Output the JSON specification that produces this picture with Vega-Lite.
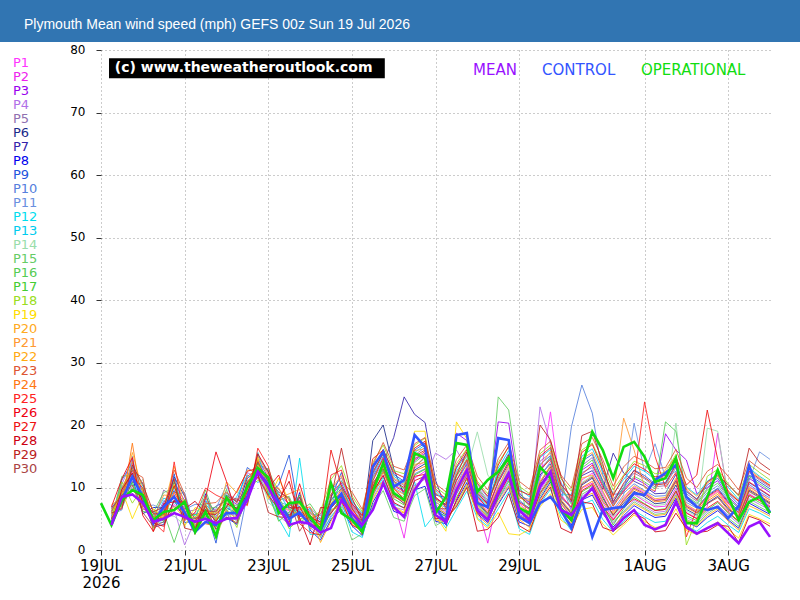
{
"$schema": "https://vega.github.io/schema/vega-lite/v6.json",
"autosize": {"type": "none"},
"padding": {"left": 101, "top": 50, "right": 30, "bottom": 50},
"width": 669, "height": 500,
"background": "white",
"config": {"view": {"stroke": null}, "font": "DejaVu Sans"},
"data": {"values": [
{"t":0,"OPERATIONAL":7.5},
{"t":6,"MEAN":4.0,"CONTROL":4.3,"OPERATIONAL":4.0,"P1":5.2,"P2":4.8,"P3":6.1,"P4":4.5,"P5":5.5,"P6":6.8,"P7":5.9,"P8":4.3,"P9":5.0,"P10":6.3,"P11":5.7,"P12":4.9,"P13":5.4,"P14":6.0,"P15":4.6,"P16":5.1,"P17":6.5,"P18":4.4,"P19":5.8,"P20":7.2,"P21":5.3,"P22":4.7,"P23":6.2,"P24":5.6,"P25":4.2,"P26":6.9,"P27":5.0,"P28":4.1,"P29":5.9,"P30":6.6},
{"t":12,"MEAN":8.5,"CONTROL":8.0,"OPERATIONAL":8.0,"P1":8.1,"P2":9.4,"P3":7.2,"P4":10.5,"P5":6.8,"P6":8.7,"P7":9.9,"P8":7.5,"P9":11.2,"P10":8.3,"P11":6.4,"P12":9.1,"P13":10.2,"P14":7.8,"P15":11.8,"P16":8.9,"P17":7.0,"P18":10.9,"P19":9.6,"P20":8.5,"P21":7.4,"P22":10.0,"P23":9.2,"P24":6.9,"P25":8.0,"P26":11.4,"P27":7.7,"P28":9.7,"P29":6.6,"P30":8.8},
{"t":18,"MEAN":8.9,"CONTROL":11.7,"OPERATIONAL":9.6,"P1":12.4,"P2":13.8,"P3":11.0,"P4":14.5,"P5":10.2,"P6":12.9,"P7":13.2,"P8":11.7,"P9":14.0,"P10":12.2,"P11":15.0,"P12":13.5,"P13":10.6,"P14":9.8,"P15":12.0,"P16":11.3,"P17":10.9,"P18":7.5,"P19":5.0,"P20":15.6,"P21":14.2,"P22":13.0,"P23":12.6,"P24":17.1,"P25":11.8,"P26":14.8,"P27":9.5,"P28":12.3,"P29":13.6,"P30":10.4},
{"t":24,"MEAN":7.5,"CONTROL":8.5,"OPERATIONAL":8.8,"P1":8.7,"P2":7.1,"P3":9.6,"P4":6.5,"P5":10.8,"P6":7.9,"P7":8.2,"P8":5.8,"P9":9.1,"P10":7.4,"P11":6.9,"P12":10.2,"P13":8.5,"P14":11.3,"P15":7.7,"P16":9.0,"P17":6.2,"P18":10.0,"P19":8.8,"P20":9.4,"P21":7.2,"P22":8.0,"P23":11.6,"P24":6.7,"P25":9.9,"P26":5.5,"P27":8.4,"P28":7.6,"P29":10.5,"P30":6.0},
{"t":30,"MEAN":4.5,"CONTROL":4.3,"OPERATIONAL":4.8,"P1":4.8,"P2":5.5,"P3":3.9,"P4":6.2,"P5":4.4,"P6":5.9,"P7":3.6,"P8":6.8,"P9":5.1,"P10":4.2,"P11":7.2,"P12":4.6,"P13":5.3,"P14":3.3,"P15":6.0,"P16":4.9,"P17":5.7,"P18":3.5,"P19":6.5,"P20":4.0,"P21":5.0,"P22":6.6,"P23":2.9,"P24":5.4,"P25":4.5,"P26":3.0,"P27":5.8,"P28":4.3,"P29":6.1,"P30":3.8},
{"t":36,"MEAN":5.0,"CONTROL":6.9,"OPERATIONAL":6.1,"P1":6.2,"P2":4.8,"P3":7.5,"P4":5.3,"P5":9.6,"P6":5.9,"P7":4.1,"P8":6.8,"P9":5.0,"P10":7.9,"P11":6.5,"P12":4.4,"P13":8.3,"P14":5.7,"P15":9.2,"P16":6.0,"P17":4.6,"P18":7.1,"P19":5.4,"P20":6.7,"P21":8.8,"P22":4.9,"P23":6.3,"P24":5.2,"P25":2.9,"P26":7.4,"P27":5.6,"P28":3.8,"P29":6.9,"P30":4.5},
{"t":42,"MEAN":5.9,"CONTROL":8.5,"OPERATIONAL":6.4,"P1":9.1,"P2":7.3,"P3":10.8,"P4":6.5,"P5":8.4,"P6":11.7,"P7":7.9,"P8":9.5,"P9":12.2,"P10":6.9,"P11":8.8,"P12":10.1,"P13":7.6,"P14":5.4,"P15":9.9,"P16":1.2,"P17":11.0,"P18":6.2,"P19":10.5,"P20":13.4,"P21":8.6,"P22":7.0,"P23":12.8,"P24":9.3,"P25":14.1,"P26":7.7,"P27":10.3,"P28":8.0,"P29":11.4,"P30":6.6},
{"t":48,"MEAN":5.3,"CONTROL":6.0,"OPERATIONAL":7.7,"P1":6.8,"P2":5.4,"P3":7.9,"P4":0.8,"P5":6.1,"P6":8.6,"P7":5.0,"P8":7.2,"P9":4.4,"P10":6.5,"P11":9.2,"P12":5.8,"P13":6.9,"P14":4.0,"P15":7.5,"P16":6.2,"P17":5.5,"P18":8.1,"P19":3.8,"P20":7.0,"P21":6.4,"P22":5.1,"P23":8.9,"P24":6.0,"P25":4.7,"P26":7.7,"P27":5.3,"P28":6.6,"P29":3.5,"P30":7.4},
{"t":54,"MEAN":4.5,"CONTROL":2.9,"OPERATIONAL":2.9,"P1":4.3,"P2":5.9,"P3":3.2,"P4":4.8,"P5":6.4,"P6":3.7,"P7":5.1,"P8":2.8,"P9":4.6,"P10":7.3,"P11":3.4,"P12":5.5,"P13":4.0,"P14":6.1,"P15":3.0,"P16":4.9,"P17":5.7,"P18":3.6,"P19":6.8,"P20":4.2,"P21":3.9,"P22":5.3,"P23":2.5,"P24":4.5,"P25":6.0,"P26":3.3,"P27":4.7,"P28":7.8,"P29":3.1,"P30":5.0},
{"t":60,"MEAN":5.0,"CONTROL":4.5,"OPERATIONAL":6.1,"P1":6.9,"P2":5.6,"P3":7.8,"P4":4.9,"P5":8.4,"P6":6.2,"P7":5.3,"P8":9.0,"P9":6.6,"P10":7.3,"P11":4.5,"P12":8.1,"P13":5.9,"P14":7.0,"P15":6.4,"P16":9.6,"P17":5.1,"P18":7.6,"P19":6.0,"P20":8.7,"P21":5.4,"P22":6.8,"P23":7.4,"P24":4.2,"P25":9.9,"P26":8.3,"P27":6.5,"P28":5.8,"P29":7.1,"P30":6.3},
{"t":66,"MEAN":4.3,"CONTROL":4.0,"OPERATIONAL":2.2,"P1":5.3,"P2":4.1,"P3":6.2,"P4":3.4,"P5":5.8,"P6":4.7,"P7":7.0,"P8":3.9,"P9":1.1,"P10":5.5,"P11":6.6,"P12":4.4,"P13":5.1,"P14":2.9,"P15":6.9,"P16":4.8,"P17":3.6,"P18":1.8,"P19":5.9,"P20":4.3,"P21":6.4,"P22":5.0,"P23":7.6,"P24":3.8,"P25":8.8,"P26":15.7,"P27":4.6,"P28":5.7,"P29":3.3,"P30":6.1},
{"t":72,"MEAN":5.0,"CONTROL":5.9,"OPERATIONAL":8.4,"P1":7.5,"P2":6.2,"P3":8.4,"P4":5.7,"P5":9.1,"P6":6.8,"P7":7.9,"P8":5.2,"P9":8.8,"P10":6.5,"P11":10.4,"P12":7.2,"P13":6.0,"P14":8.1,"P15":5.5,"P16":9.7,"P17":7.0,"P18":6.6,"P19":8.5,"P20":10.9,"P21":7.7,"P22":6.3,"P23":9.3,"P24":5.9,"P25":8.0,"P26":11.0,"P27":6.9,"P28":7.4,"P29":5.3,"P30":8.6},
{"t":78,"MEAN":5.1,"CONTROL":5.9,"OPERATIONAL":6.1,"P1":6.4,"P2":5.2,"P3":7.3,"P4":4.7,"P5":8.0,"P6":5.8,"P7":6.6,"P8":4.1,"P9":7.7,"P10":0.5,"P11":6.1,"P12":5.5,"P13":8.6,"P14":4.4,"P15":6.9,"P16":5.0,"P17":7.2,"P18":3.6,"P19":6.3,"P20":9.1,"P21":5.7,"P22":4.9,"P23":7.5,"P24":6.0,"P25":8.2,"P26":5.4,"P27":9.4,"P28":6.7,"P29":4.3,"P30":7.8},
{"t":84,"MEAN":8.0,"CONTROL":8.5,"OPERATIONAL":10.1,"P1":9.2,"P2":10.8,"P3":8.1,"P4":12.4,"P5":7.6,"P6":9.8,"P7":11.5,"P8":8.5,"P9":13.2,"P10":9.0,"P11":10.3,"P12":7.9,"P13":12.0,"P14":8.8,"P15":9.5,"P16":11.1,"P17":7.3,"P18":10.0,"P19":8.3,"P20":12.8,"P21":9.6,"P22":8.0,"P23":11.8,"P24":10.6,"P25":7.1,"P26":9.3,"P27":12.6,"P28":8.7,"P29":10.9,"P30":9.9},
{"t":90,"MEAN":12.5,"CONTROL":12.5,"OPERATIONAL":13.1,"P1":13.5,"P2":12.1,"P3":14.6,"P4":11.4,"P5":15.2,"P6":13.0,"P7":12.7,"P8":14.0,"P9":11.9,"P10":13.8,"P11":12.4,"P12":15.6,"P13":10.8,"P14":13.3,"P15":14.4,"P16":12.0,"P17":13.9,"P18":11.1,"P19":14.8,"P20":12.6,"P21":15.0,"P22":13.6,"P23":12.9,"P24":14.3,"P25":16.3,"P26":11.7,"P27":13.1,"P28":15.4,"P29":12.2,"P30":14.1},
{"t":96,"MEAN":10.1,"CONTROL":10.5,"OPERATIONAL":11.6,"P1":10.4,"P2":9.2,"P3":11.6,"P4":8.5,"P5":12.3,"P6":10.0,"P7":9.7,"P8":11.0,"P9":8.9,"P10":12.8,"P11":10.6,"P12":9.4,"P13":11.9,"P14":7.6,"P15":10.2,"P16":13.1,"P17":9.0,"P18":11.3,"P19":8.2,"P20":10.8,"P21":12.0,"P22":9.5,"P23":11.4,"P24":10.1,"P25":13.4,"P26":8.7,"P27":9.9,"P28":12.5,"P29":6.0,"P30":10.9},
{"t":102,"MEAN":6.9,"CONTROL":7.7,"OPERATIONAL":5.9,"P1":7.4,"P2":6.1,"P3":8.8,"P4":5.5,"P5":9.6,"P6":7.0,"P7":6.5,"P8":8.1,"P9":10.4,"P10":6.8,"P11":7.7,"P12":5.0,"P13":9.1,"P14":6.3,"P15":7.9,"P16":8.5,"P17":4.6,"P18":7.2,"P19":11.5,"P20":6.0,"P21":8.3,"P22":7.5,"P23":5.8,"P24":9.9,"P25":7.1,"P26":6.6,"P27":12.0,"P28":8.0,"P29":5.3,"P30":9.3},
{"t":108,"MEAN":4.0,"CONTROL":5.0,"OPERATIONAL":7.5,"P1":6.2,"P2":5.0,"P3":7.4,"P4":4.1,"P5":8.0,"P6":5.6,"P7":6.9,"P8":3.7,"P9":15.2,"P10":5.9,"P11":7.1,"P12":2.1,"P13":6.5,"P14":4.6,"P15":8.6,"P16":5.3,"P17":6.0,"P18":3.4,"P19":7.8,"P20":4.8,"P21":9.0,"P22":6.4,"P23":5.5,"P24":7.2,"P25":12.8,"P26":4.4,"P27":6.7,"P28":11.0,"P29":5.2,"P30":8.3},
{"t":114,"MEAN":4.5,"CONTROL":6.0,"OPERATIONAL":7.7,"P1":6.6,"P2":7.8,"P3":5.3,"P4":8.4,"P5":4.7,"P6":7.0,"P7":6.1,"P8":9.2,"P9":5.5,"P10":6.9,"P11":8.0,"P12":14.7,"P13":5.9,"P14":7.5,"P15":4.5,"P16":6.3,"P17":8.8,"P18":5.0,"P19":7.3,"P20":6.0,"P21":9.7,"P22":5.7,"P23":7.9,"P24":6.5,"P25":4.2,"P26":10.6,"P27":6.8,"P28":5.1,"P29":8.5,"P30":3.0},
{"t":120,"MEAN":4.2,"CONTROL":4.0,"OPERATIONAL":5.3,"P1":5.1,"P2":4.3,"P3":6.0,"P4":3.6,"P5":6.8,"P6":4.8,"P7":5.5,"P8":3.2,"P9":6.3,"P10":4.6,"P11":5.8,"P12":2.5,"P13":6.6,"P14":4.0,"P15":5.3,"P16":7.4,"P17":3.8,"P18":5.0,"P19":4.4,"P20":6.1,"P21":3.4,"P22":5.7,"P23":4.9,"P24":6.9,"P25":2.8,"P26":5.2,"P27":4.1,"P28":0.8,"P29":3.9,"P30":5.6},
{"t":126,"MEAN":2.8,"CONTROL":3.0,"OPERATIONAL":3.2,"P1":3.6,"P2":2.8,"P3":4.4,"P4":2.2,"P5":5.0,"P6":3.1,"P7":3.9,"P8":1.6,"P9":4.7,"P10":3.3,"P11":5.5,"P12":2.5,"P13":4.1,"P14":3.0,"P15":2.0,"P16":4.9,"P17":3.5,"P18":6.2,"P19":2.7,"P20":3.8,"P21":4.3,"P22":1.2,"P23":5.8,"P24":3.2,"P25":2.4,"P26":4.5,"P27":3.7,"P28":6.8,"P29":2.9,"P30":4.0},
{"t":132,"MEAN":3.5,"CONTROL":7.0,"OPERATIONAL":10.7,"P1":7.4,"P2":6.2,"P3":8.6,"P4":5.5,"P5":9.5,"P6":6.8,"P7":7.9,"P8":4.9,"P9":8.3,"P10":6.0,"P11":10.2,"P12":5.2,"P13":7.1,"P14":9.0,"P15":6.5,"P16":8.0,"P17":5.8,"P18":11.3,"P19":7.6,"P20":6.3,"P21":9.8,"P22":4.6,"P23":8.9,"P24":7.0,"P25":12.0,"P26":5.9,"P27":16.0,"P28":6.7,"P29":8.2,"P30":7.3},
{"t":138,"MEAN":8.0,"CONTROL":9.0,"OPERATIONAL":5.9,"P1":9.3,"P2":8.0,"P3":10.7,"P4":7.1,"P5":11.6,"P6":8.8,"P7":9.9,"P8":6.5,"P9":12.4,"P10":8.3,"P11":10.0,"P12":7.6,"P13":11.1,"P14":9.5,"P15":6.9,"P16":10.4,"P17":8.6,"P18":13.5,"P19":9.0,"P20":7.4,"P21":11.9,"P22":8.2,"P23":10.9,"P24":9.7,"P25":12.8,"P26":7.9,"P27":10.2,"P28":8.5,"P29":16.3,"P30":9.1},
{"t":144,"MEAN":5.9,"CONTROL":5.0,"OPERATIONAL":4.8,"P1":6.3,"P2":5.1,"P3":7.2,"P4":4.5,"P5":8.0,"P6":5.8,"P7":6.6,"P8":3.9,"P9":7.5,"P10":5.4,"P11":6.9,"P12":2.9,"P13":7.8,"P14":5.0,"P15":1.6,"P16":6.1,"P17":4.7,"P18":8.7,"P19":5.6,"P20":6.4,"P21":7.0,"P22":4.2,"P23":9.3,"P24":5.9,"P25":6.8,"P26":4.0,"P27":7.4,"P28":5.3,"P29":8.4,"P30":6.0},
{"t":150,"MEAN":4.0,"CONTROL":3.5,"OPERATIONAL":2.9,"P1":4.2,"P2":3.5,"P3":5.0,"P4":2.8,"P5":5.6,"P6":3.9,"P7":4.5,"P8":2.3,"P9":5.3,"P10":3.7,"P11":4.8,"P12":2.0,"P13":5.9,"P14":3.3,"P15":2.6,"P16":4.4,"P17":3.0,"P18":6.1,"P19":3.6,"P20":4.7,"P21":5.2,"P22":2.9,"P23":6.5,"P24":3.8,"P25":4.0,"P26":3.1,"P27":5.5,"P28":2.5,"P29":4.6,"P30":3.4},
{"t":156,"MEAN":6.4,"CONTROL":13.3,"OPERATIONAL":9.3,"P1":10.5,"P2":9.1,"P3":11.8,"P4":8.3,"P5":12.6,"P6":17.5,"P7":10.0,"P8":7.6,"P9":13.0,"P10":9.6,"P11":11.2,"P12":8.8,"P13":12.1,"P14":10.8,"P15":7.2,"P16":11.5,"P17":9.4,"P18":14.0,"P19":8.0,"P20":10.3,"P21":12.9,"P22":9.8,"P23":13.6,"P24":8.6,"P25":11.0,"P26":10.1,"P27":14.6,"P28":9.3,"P29":12.3,"P30":10.7},
{"t":162,"MEAN":10.7,"CONTROL":15.7,"OPERATIONAL":13.9,"P1":13.4,"P2":12.0,"P3":14.6,"P4":11.2,"P5":15.3,"P6":20.0,"P7":14.0,"P8":10.5,"P9":16.1,"P10":12.7,"P11":13.9,"P12":11.6,"P13":15.0,"P14":12.3,"P15":9.5,"P16":14.4,"P17":12.9,"P18":16.8,"P19":11.0,"P20":13.2,"P21":15.7,"P22":10.9,"P23":17.2,"P24":12.5,"P25":14.8,"P26":13.7,"P27":16.0,"P28":11.9,"P29":15.5,"P30":13.0},
{"t":168,"MEAN":6.9,"CONTROL":10.1,"OPERATIONAL":9.1,"P1":9.0,"P2":7.8,"P3":10.5,"P4":6.9,"P5":11.3,"P6":13.0,"P7":18.0,"P8":6.2,"P9":12.1,"P10":8.7,"P11":10.0,"P12":7.3,"P13":11.8,"P14":9.4,"P15":5.2,"P16":10.8,"P17":8.2,"P18":12.7,"P19":7.0,"P20":9.7,"P21":11.5,"P22":6.5,"P23":13.4,"P24":8.5,"P25":10.3,"P26":9.9,"P27":12.4,"P28":7.6,"P29":11.0,"P30":8.8},
{"t":174,"MEAN":5.3,"CONTROL":11.2,"OPERATIONAL":8.0,"P1":8.2,"P2":1.9,"P3":9.5,"P4":6.4,"P5":10.3,"P6":8.8,"P7":24.5,"P8":5.6,"P9":11.0,"P10":7.5,"P11":9.0,"P12":6.8,"P13":10.7,"P14":8.5,"P15":4.6,"P16":9.8,"P17":7.2,"P18":12.2,"P19":6.0,"P20":8.9,"P21":10.5,"P22":5.9,"P23":12.8,"P24":7.8,"P25":9.3,"P26":8.1,"P27":11.6,"P28":6.7,"P29":10.0,"P30":7.4},
{"t":180,"MEAN":9.6,"CONTROL":18.4,"OPERATIONAL":15.5,"P1":13.1,"P2":11.5,"P3":14.3,"P4":10.4,"P5":15.2,"P6":12.8,"P7":21.7,"P8":9.6,"P9":16.0,"P10":12.2,"P11":14.8,"P12":10.9,"P13":15.6,"P14":13.5,"P15":8.7,"P16":14.0,"P17":12.0,"P18":16.7,"P19":19.0,"P20":13.7,"P21":15.9,"P22":10.1,"P23":17.0,"P24":12.6,"P25":14.5,"P26":11.8,"P27":16.3,"P28":11.1,"P29":15.0,"P30":13.3},
{"t":186,"MEAN":12.0,"CONTROL":16.5,"OPERATIONAL":14.7,"P1":14.2,"P2":12.6,"P3":15.5,"P4":11.3,"P5":16.4,"P6":13.8,"P7":20.4,"P8":10.2,"P9":17.1,"P10":13.0,"P11":15.0,"P12":3.7,"P13":16.8,"P14":14.6,"P15":9.8,"P16":15.3,"P17":12.9,"P18":17.9,"P19":19.0,"P20":14.0,"P21":16.2,"P22":11.5,"P23":18.0,"P24":13.4,"P25":15.8,"P26":12.1,"P27":17.4,"P28":11.8,"P29":16.0,"P30":14.9},
{"t":192,"MEAN":5.6,"CONTROL":6.9,"OPERATIONAL":5.9,"P1":7.3,"P2":6.0,"P3":8.4,"P4":15.5,"P5":9.0,"P6":6.7,"P7":11.2,"P8":4.6,"P9":8.8,"P10":6.4,"P11":7.6,"P12":5.8,"P13":9.5,"P14":7.0,"P15":3.9,"P16":8.0,"P17":6.2,"P18":10.1,"P19":5.5,"P20":7.8,"P21":9.2,"P22":4.8,"P23":10.6,"P24":6.9,"P25":8.5,"P26":7.1,"P27":9.8,"P28":5.0,"P29":8.2,"P30":6.6},
{"t":198,"MEAN":4.5,"CONTROL":4.3,"OPERATIONAL":8.5,"P1":6.1,"P2":5.0,"P3":7.2,"P4":14.5,"P5":7.9,"P6":5.6,"P7":6.5,"P8":4.2,"P9":8.4,"P10":5.3,"P11":6.8,"P12":3.5,"P13":7.6,"P14":5.9,"P15":4.8,"P16":7.0,"P17":5.4,"P18":8.8,"P19":3.0,"P20":6.3,"P21":7.5,"P22":4.5,"P23":9.3,"P24":5.8,"P25":6.9,"P26":4.0,"P27":8.1,"P28":5.1,"P29":7.3,"P30":6.6},
{"t":204,"MEAN":9.6,"CONTROL":18.4,"OPERATIONAL":17.1,"P1":10.6,"P2":9.0,"P3":18.7,"P4":16.0,"P5":12.0,"P6":9.5,"P7":11.2,"P8":7.8,"P9":13.1,"P10":8.9,"P11":10.3,"P12":6.5,"P13":12.6,"P14":9.8,"P15":7.1,"P16":11.7,"P17":8.4,"P18":13.8,"P19":20.5,"P20":10.0,"P21":12.3,"P22":7.4,"P23":14.5,"P24":9.2,"P25":11.0,"P26":8.0,"P27":13.3,"P28":6.9,"P29":11.9,"P30":9.6},
{"t":210,"MEAN":12.8,"CONTROL":18.7,"OPERATIONAL":16.8,"P1":13.0,"P2":11.9,"P3":17.5,"P4":13.2,"P5":14.2,"P6":12.5,"P7":13.7,"P8":10.8,"P9":15.5,"P10":12.0,"P11":14.0,"P12":9.4,"P13":15.0,"P14":12.8,"P15":10.2,"P16":14.6,"P17":11.3,"P18":16.2,"P19":17.8,"P20":13.4,"P21":15.2,"P22":10.5,"P23":16.8,"P24":12.2,"P25":14.4,"P26":11.6,"P27":16.0,"P28":10.0,"P29":15.7,"P30":12.7},
{"t":216,"MEAN":6.4,"CONTROL":7.5,"OPERATIONAL":9.3,"P1":8.3,"P2":7.0,"P3":9.6,"P4":6.4,"P5":10.1,"P6":7.6,"P7":8.7,"P8":5.8,"P9":9.2,"P10":6.8,"P11":10.5,"P12":5.1,"P13":8.9,"P14":18.9,"P15":6.2,"P16":9.9,"P17":7.3,"P18":11.0,"P19":4.9,"P20":8.0,"P21":9.4,"P22":5.6,"P23":11.8,"P24":7.1,"P25":8.5,"P26":6.0,"P27":10.7,"P28":3.0,"P29":9.0,"P30":7.8},
{"t":222,"MEAN":4.8,"CONTROL":6.9,"OPERATIONAL":11.2,"P1":6.3,"P2":1.1,"P3":7.5,"P4":5.0,"P5":8.0,"P6":5.7,"P7":6.6,"P8":4.4,"P9":7.2,"P10":5.3,"P11":8.4,"P12":3.8,"P13":6.9,"P14":12.0,"P15":4.6,"P16":7.7,"P17":5.5,"P18":9.0,"P19":3.5,"P20":6.0,"P21":7.1,"P22":4.1,"P23":9.6,"P24":5.2,"P25":6.7,"P26":4.8,"P27":8.6,"P28":3.3,"P29":7.4,"P30":5.9},
{"t":228,"MEAN":9.1,"CONTROL":17.9,"OPERATIONAL":12.5,"P1":10.2,"P2":8.8,"P3":20.5,"P4":8.0,"P5":11.9,"P6":9.4,"P7":10.8,"P8":7.3,"P9":12.5,"P10":8.4,"P11":11.2,"P12":6.6,"P13":13.1,"P14":9.9,"P15":24.5,"P16":11.5,"P17":8.1,"P18":14.0,"P19":6.0,"P20":10.0,"P21":12.2,"P22":7.6,"P23":14.6,"P24":9.0,"P25":11.0,"P26":8.6,"P27":13.6,"P28":5.2,"P29":12.0,"P30":9.7},
{"t":234,"MEAN":12.3,"CONTROL":17.6,"OPERATIONAL":14.7,"P1":13.2,"P2":11.6,"P3":20.3,"P4":10.5,"P5":14.5,"P6":12.4,"P7":13.8,"P8":10.0,"P9":15.4,"P10":11.3,"P11":14.1,"P12":9.3,"P13":15.9,"P14":12.9,"P15":22.4,"P16":14.8,"P17":11.0,"P18":16.5,"P19":2.6,"P20":13.6,"P21":15.0,"P22":10.2,"P23":17.2,"P24":12.0,"P25":14.2,"P26":11.8,"P27":16.6,"P28":9.0,"P29":15.2,"P30":12.6},
{"t":240,"MEAN":6.4,"CONTROL":5.3,"OPERATIONAL":6.7,"P1":7.4,"P2":6.0,"P3":9.2,"P4":5.3,"P5":8.5,"P6":6.6,"P7":7.8,"P8":4.5,"P9":9.0,"P10":5.7,"P11":8.1,"P12":3.4,"P13":9.8,"P14":6.4,"P15":10.9,"P16":8.8,"P17":5.1,"P18":10.2,"P19":2.4,"P20":7.0,"P21":8.3,"P22":4.9,"P23":11.0,"P24":6.2,"P25":7.6,"P26":5.5,"P27":9.5,"P28":3.9,"P29":8.7,"P30":6.8},
{"t":246,"MEAN":4.8,"CONTROL":4.3,"OPERATIONAL":5.9,"P1":6.0,"P2":5.1,"P3":7.3,"P4":4.6,"P5":8.1,"P6":5.5,"P7":6.7,"P8":3.8,"P9":7.6,"P10":4.9,"P11":6.4,"P12":2.5,"P13":8.5,"P14":5.8,"P15":4.0,"P16":7.0,"P17":4.4,"P18":9.0,"P19":3.3,"P20":6.2,"P21":7.9,"P22":3.6,"P23":9.7,"P24":5.3,"P25":6.5,"P26":4.7,"P27":8.8,"P28":2.9,"P29":7.2,"P30":5.6},
{"t":252,"MEAN":10.1,"CONTROL":7.5,"OPERATIONAL":13.3,"P1":11.3,"P2":9.6,"P3":13.0,"P4":22.9,"P5":14.2,"P6":10.5,"P7":12.0,"P8":8.2,"P9":13.7,"P10":9.9,"P11":11.6,"P12":7.4,"P13":14.8,"P14":10.9,"P15":8.6,"P16":12.5,"P17":9.2,"P18":15.4,"P19":6.9,"P20":11.0,"P21":13.4,"P22":8.0,"P23":16.0,"P24":10.2,"P25":12.8,"P26":9.0,"P27":15.0,"P28":7.7,"P29":20.0,"P30":10.7},
{"t":258,"MEAN":12.5,"CONTROL":8.5,"OPERATIONAL":11.5,"P1":22.1,"P2":12.0,"P3":14.7,"P4":17.0,"P5":15.5,"P6":12.6,"P7":13.8,"P8":10.9,"P9":15.1,"P10":12.3,"P11":14.2,"P12":9.7,"P13":16.1,"P14":13.0,"P15":11.2,"P16":14.9,"P17":11.7,"P18":16.8,"P19":9.0,"P20":13.5,"P21":15.8,"P22":10.5,"P23":17.4,"P24":12.8,"P25":14.5,"P26":11.4,"P27":16.4,"P28":10.1,"P29":17.6,"P30":13.3},
{"t":264,"MEAN":6.4,"CONTROL":6.4,"OPERATIONAL":6.7,"P1":9.0,"P2":7.5,"P3":9.8,"P4":6.8,"P5":10.6,"P6":7.9,"P7":8.4,"P8":6.1,"P9":9.5,"P10":7.2,"P11":10.9,"P12":5.4,"P13":8.8,"P14":7.7,"P15":6.5,"P16":10.2,"P17":6.9,"P18":11.4,"P19":4.8,"P20":8.1,"P21":9.7,"P22":5.9,"P23":12.0,"P24":7.4,"P25":8.6,"P26":6.3,"P27":10.4,"P28":3.5,"P29":11.8,"P30":7.8},
{"t":270,"MEAN":5.6,"CONTROL":3.5,"OPERATIONAL":4.8,"P1":6.5,"P2":5.4,"P3":7.6,"P4":4.8,"P5":8.3,"P6":5.9,"P7":6.8,"P8":4.0,"P9":7.9,"P10":19.7,"P11":6.2,"P12":3.1,"P13":8.9,"P14":5.6,"P15":4.5,"P16":7.3,"P17":4.9,"P18":9.4,"P19":3.6,"P20":6.1,"P21":8.0,"P22":4.3,"P23":9.9,"P24":5.2,"P25":6.9,"P26":4.6,"P27":8.6,"P28":2.7,"P29":7.8,"P30":5.8},
{"t":276,"MEAN":8.0,"CONTROL":8.0,"OPERATIONAL":13.3,"P1":11.2,"P2":9.9,"P3":12.8,"P4":8.6,"P5":13.5,"P6":10.4,"P7":11.9,"P8":8.0,"P9":14.2,"P10":26.4,"P11":12.4,"P12":7.2,"P13":15.0,"P14":10.8,"P15":8.9,"P16":13.1,"P17":9.3,"P18":16.0,"P19":6.5,"P20":11.5,"P21":14.6,"P22":8.3,"P23":17.0,"P24":10.0,"P25":12.1,"P26":9.5,"P27":15.6,"P28":7.7,"P29":18.3,"P30":10.6},
{"t":282,"MEAN":9.9,"CONTROL":2.1,"OPERATIONAL":18.9,"P1":12.3,"P2":10.7,"P3":13.9,"P4":9.6,"P5":14.8,"P6":11.5,"P7":12.7,"P8":8.8,"P9":15.3,"P10":21.9,"P11":13.2,"P12":8.0,"P13":16.2,"P14":11.9,"P15":9.9,"P16":14.4,"P17":10.3,"P18":17.1,"P19":6.8,"P20":12.0,"P21":15.6,"P22":9.1,"P23":18.0,"P24":11.0,"P25":13.6,"P26":10.5,"P27":16.9,"P28":7.4,"P29":19.0,"P30":11.7},
{"t":288,"MEAN":6.4,"CONTROL":6.4,"OPERATIONAL":16.0,"P1":9.0,"P2":7.6,"P3":10.4,"P4":6.9,"P5":11.2,"P6":8.3,"P7":9.7,"P8":5.8,"P9":10.9,"P10":12.0,"P11":9.3,"P12":4.9,"P13":12.5,"P14":8.0,"P15":6.5,"P16":10.7,"P17":7.2,"P18":13.4,"P19":4.2,"P20":9.5,"P21":11.8,"P22":6.0,"P23":14.5,"P24":7.8,"P25":10.1,"P26":7.0,"P27":12.9,"P28":3.6,"P29":13.8,"P30":8.6},
{"t":294,"MEAN":3.2,"CONTROL":6.7,"OPERATIONAL":11.5,"P1":6.2,"P2":5.0,"P3":7.4,"P4":4.3,"P5":8.1,"P6":5.6,"P7":15.5,"P8":3.7,"P9":7.8,"P10":8.9,"P11":6.5,"P12":2.9,"P13":9.0,"P14":5.3,"P15":4.6,"P16":7.1,"P17":4.0,"P18":9.6,"P19":2.4,"P20":6.0,"P21":8.4,"P22":3.3,"P23":10.2,"P24":5.8,"P25":7.0,"P26":4.8,"P27":8.7,"P28":3.0,"P29":7.6,"P30":5.5},
{"t":300,"MEAN":5.1,"CONTROL":6.9,"OPERATIONAL":16.5,"P1":8.3,"P2":7.0,"P3":9.6,"P4":6.2,"P5":10.4,"P6":7.5,"P7":12.3,"P8":5.5,"P9":10.0,"P10":9.1,"P11":8.8,"P12":4.6,"P13":11.3,"P14":7.2,"P15":6.1,"P16":9.9,"P17":6.6,"P18":12.0,"P19":4.0,"P20":8.5,"P21":21.1,"P22":5.9,"P23":13.3,"P24":7.8,"P25":9.4,"P26":6.9,"P27":11.8,"P28":4.3,"P29":10.7,"P30":8.0},
{"t":306,"MEAN":6.4,"CONTROL":9.1,"OPERATIONAL":17.3,"P1":10.1,"P2":8.9,"P3":11.5,"P4":8.0,"P5":12.3,"P6":9.4,"P7":11.0,"P8":7.1,"P9":12.8,"P10":10.6,"P11":20.3,"P12":6.3,"P13":13.4,"P14":9.0,"P15":7.7,"P16":11.8,"P17":8.5,"P18":14.2,"P19":5.6,"P20":10.3,"P21":16.0,"P22":7.4,"P23":15.0,"P24":9.7,"P25":11.2,"P26":8.2,"P27":13.8,"P28":5.9,"P29":12.7,"P30":9.9},
{"t":312,"MEAN":4.0,"CONTROL":8.8,"OPERATIONAL":14.9,"P1":9.2,"P2":7.8,"P3":10.6,"P4":7.0,"P5":11.4,"P6":8.5,"P7":10.2,"P8":6.1,"P9":11.9,"P10":9.5,"P11":12.5,"P12":5.3,"P13":12.6,"P14":8.1,"P15":6.7,"P16":10.9,"P17":7.4,"P18":13.5,"P19":4.6,"P20":9.4,"P21":10.0,"P22":6.5,"P23":14.2,"P24":8.8,"P25":23.7,"P26":7.3,"P27":12.9,"P28":5.0,"P29":11.6,"P30":9.0},
{"t":318,"MEAN":3.3,"CONTROL":11.2,"OPERATIONAL":10.9,"P1":8.0,"P2":6.9,"P3":9.3,"P4":6.0,"P5":10.1,"P6":7.4,"P7":9.0,"P8":5.2,"P9":10.6,"P10":8.6,"P11":17.0,"P12":4.4,"P13":11.3,"P14":7.1,"P15":5.7,"P16":9.8,"P17":6.4,"P18":12.2,"P19":3.6,"P20":8.2,"P21":9.5,"P22":5.5,"P23":13.0,"P24":7.7,"P25":15.0,"P26":6.3,"P27":11.7,"P28":2.9,"P29":10.4,"P30":7.9},
{"t":324,"MEAN":4.0,"CONTROL":12.3,"OPERATIONAL":11.5,"P1":8.2,"P2":7.0,"P3":18.6,"P4":6.2,"P5":10.3,"P6":7.6,"P7":9.1,"P8":5.4,"P9":10.8,"P10":8.7,"P11":11.6,"P12":4.6,"P13":11.5,"P14":7.3,"P15":5.9,"P16":20.5,"P17":6.6,"P18":12.4,"P19":3.8,"P20":8.4,"P21":12.9,"P22":5.7,"P23":13.2,"P24":7.9,"P25":10.0,"P26":6.5,"P27":11.9,"P28":3.1,"P29":10.6,"P30":8.1},
{"t":330,"MEAN":7.7,"CONTROL":13.6,"OPERATIONAL":14.7,"P1":11.3,"P2":9.9,"P3":16.0,"P4":9.1,"P5":13.2,"P6":10.4,"P7":12.1,"P8":8.3,"P9":13.8,"P10":11.0,"P11":12.6,"P12":7.4,"P13":14.4,"P14":20.3,"P15":8.8,"P16":19.0,"P17":9.5,"P18":15.3,"P19":6.6,"P20":11.5,"P21":14.9,"P22":8.6,"P23":16.1,"P24":10.8,"P25":12.4,"P26":9.4,"P27":14.9,"P28":5.9,"P29":13.6,"P30":11.1},
{"t":336,"MEAN":3.7,"CONTROL":8.5,"OPERATIONAL":4.3,"P1":7.1,"P2":6.0,"P3":14.4,"P4":5.2,"P5":9.0,"P6":6.5,"P7":8.0,"P8":4.5,"P9":9.3,"P10":7.6,"P11":8.4,"P12":3.8,"P13":10.1,"P14":6.3,"P15":4.9,"P16":8.6,"P17":5.5,"P18":0.8,"P19":3.1,"P20":7.3,"P21":9.9,"P22":4.7,"P23":11.5,"P24":6.8,"P25":2.1,"P26":5.9,"P27":10.4,"P28":3.4,"P29":9.6,"P30":7.0},
{"t":342,"MEAN":2.6,"CONTROL":6.9,"OPERATIONAL":4.3,"P1":6.2,"P2":5.1,"P3":9.0,"P4":4.4,"P5":7.8,"P6":5.6,"P7":6.9,"P8":3.7,"P9":8.2,"P10":6.7,"P11":7.3,"P12":3.0,"P13":8.8,"P14":5.4,"P15":4.1,"P16":7.5,"P17":4.7,"P18":5.0,"P19":2.5,"P20":6.3,"P21":8.6,"P22":3.9,"P23":10.0,"P24":5.9,"P25":6.6,"P26":5.0,"P27":12.0,"P28":2.8,"P29":8.0,"P30":6.0},
{"t":348,"MEAN":3.5,"CONTROL":6.4,"OPERATIONAL":8.5,"P1":8.3,"P2":7.0,"P3":10.0,"P4":6.1,"P5":9.8,"P6":7.5,"P7":8.6,"P8":5.2,"P9":10.4,"P10":8.8,"P11":9.2,"P12":4.4,"P13":11.0,"P14":19.5,"P15":5.8,"P16":9.6,"P17":6.4,"P18":11.8,"P19":3.5,"P20":8.1,"P21":10.7,"P22":5.5,"P23":12.6,"P24":7.8,"P25":8.5,"P26":6.7,"P27":22.4,"P28":3.0,"P29":10.9,"P30":7.4},
{"t":354,"MEAN":4.3,"CONTROL":6.9,"OPERATIONAL":12.8,"P1":9.4,"P2":18.7,"P3":11.1,"P4":7.2,"P5":11.9,"P6":8.6,"P7":9.8,"P8":6.3,"P9":11.5,"P10":9.9,"P11":10.3,"P12":5.4,"P13":12.2,"P14":19.0,"P15":6.9,"P16":10.7,"P17":7.6,"P18":12.9,"P19":4.5,"P20":9.2,"P21":11.8,"P22":6.6,"P23":13.7,"P24":8.9,"P25":9.6,"P26":7.8,"P27":14.5,"P28":4.0,"P29":12.0,"P30":8.4},
{"t":360,"MEAN":2.7,"CONTROL":5.1,"OPERATIONAL":8.5,"P1":7.2,"P2":8.5,"P3":8.6,"P4":5.6,"P5":9.4,"P6":6.6,"P7":7.7,"P8":4.8,"P9":9.0,"P10":7.9,"P11":8.1,"P12":4.0,"P13":10.0,"P14":8.3,"P15":5.1,"P16":8.4,"P17":5.9,"P18":10.6,"P19":3.3,"P20":7.0,"P21":9.5,"P22":4.6,"P23":11.8,"P24":6.9,"P25":7.5,"P26":6.1,"P27":9.2,"P28":3.8,"P29":10.4,"P30":6.4},
{"t":366,"MEAN":1.1,"CONTROL":7.0,"OPERATIONAL":4.8,"P1":5.9,"P2":4.8,"P3":6.9,"P4":4.2,"P5":7.7,"P6":5.3,"P7":6.4,"P8":3.5,"P9":7.3,"P10":6.2,"P11":6.8,"P12":2.8,"P13":8.1,"P14":5.7,"P15":3.8,"P16":6.6,"P17":4.5,"P18":8.6,"P19":1.9,"P20":5.6,"P21":7.9,"P22":3.2,"P23":9.6,"P24":5.0,"P25":6.0,"P26":4.6,"P27":7.8,"P28":1.2,"P29":8.8,"P30":5.4},
{"t":372,"MEAN":3.7,"CONTROL":13.5,"OPERATIONAL":7.7,"P1":10.2,"P2":9.0,"P3":11.5,"P4":8.2,"P5":12.4,"P6":9.6,"P7":10.8,"P8":7.5,"P9":12.0,"P10":10.5,"P11":11.1,"P12":6.6,"P13":13.1,"P14":9.3,"P15":7.8,"P16":11.8,"P17":8.6,"P18":13.7,"P19":5.7,"P20":10.1,"P21":12.9,"P22":7.1,"P23":14.3,"P24":9.8,"P25":10.9,"P26":8.8,"P27":12.6,"P28":5.4,"P29":16.3,"P30":9.4},
{"t":378,"MEAN":4.5,"CONTROL":9.0,"OPERATIONAL":8.5,"P1":9.1,"P2":8.0,"P3":10.3,"P4":7.3,"P5":11.2,"P6":8.6,"P7":9.7,"P8":6.6,"P9":10.9,"P10":9.3,"P11":15.7,"P12":5.9,"P13":11.8,"P14":8.3,"P15":6.9,"P16":10.6,"P17":7.6,"P18":12.4,"P19":5.0,"P20":9.0,"P21":11.6,"P22":6.3,"P23":13.0,"P24":8.7,"P25":9.8,"P26":7.9,"P27":11.4,"P28":4.8,"P29":14.0,"P30":8.4},
{"t":384,"MEAN":2.1,"CONTROL":6.0,"OPERATIONAL":5.9,"P1":8.0,"P2":7.1,"P3":9.2,"P4":6.4,"P5":10.1,"P6":7.5,"P7":8.6,"P8":5.7,"P9":9.8,"P10":8.3,"P11":14.5,"P12":5.0,"P13":10.7,"P14":7.3,"P15":6.0,"P16":9.5,"P17":6.7,"P18":11.2,"P19":4.2,"P20":8.0,"P21":10.4,"P22":5.4,"P23":12.0,"P24":7.7,"P25":8.7,"P26":6.9,"P27":10.3,"P28":3.8,"P29":12.8,"P30":7.4}
]},
"layer": [
{
"data": {"values": [{}]},
"mark": {"type": "rect", "color": "#3175b2"},
"encoding": {
"x": {"datum": -59, "type": "quantitative", "scale": {"domain": [0, 384], "nice": false}},
"x2": {"datum": 403},
"y": {"datum": 81.28, "type": "quantitative", "scale": {"domain": [0, 80], "nice": false}},
"y2": {"datum": 88.5}
}
},
{
"data": {"values": [{}]},
"mark": {"type": "text", "text": "Plymouth Mean wind speed (mph) GEFS 00z Sun 19 Jul 2026", "color": "white", "font": "Liberation Sans", "fontSize": 14, "align": "left", "baseline": "alphabetic"},
"encoding": {
"x": {"datum": -44.2, "type": "quantitative", "scale": {"domain": [0, 384], "nice": false}},
"y": {"datum": 83.4, "type": "quantitative", "scale": {"domain": [0, 80], "nice": false}}
}
},
{
"data": {"values": [{}]},
"mark": {"type": "rect", "color": "black"},
"encoding": {
"x": {"datum": 4.6, "type": "quantitative", "scale": {"domain": [0, 384], "nice": false}},
"x2": {"datum": 162.9},
"y": {"datum": 78.7, "type": "quantitative", "scale": {"domain": [0, 80], "nice": false}},
"y2": {"datum": 75.5}
}
},
{
"data": {"values": [{}]},
"mark": {"type": "text", "text": "(c) www.theweatheroutlook.com", "color": "white", "font": "DejaVu Sans", "fontSize": 14, "fontWeight": "bold", "align": "left", "baseline": "middle"},
"encoding": {
"x": {"datum": 7.9, "type": "quantitative", "scale": {"domain": [0, 384], "nice": false}},
"y": {"datum": 77.1, "type": "quantitative", "scale": {"domain": [0, 80], "nice": false}}
}
},
{
"transform": [{"fold": ["P1","P2","P3","P4","P5","P6","P7","P8","P9","P10","P11","P12","P13","P14","P15","P16","P17","P18","P19","P20","P21","P22","P23","P24","P25","P26","P27","P28","P29","P30"], "as": ["s", "v"]}],
"mark": {"type": "line", "strokeWidth": 1, "opacity": 0.85},
"encoding": {
"x": {"field": "t", "type": "quantitative", "scale": {"domain": [0, 384], "nice": false},
"axis": {"title": null, "values": [0, 48, 96, 144, 192, 240, 312, 360], "labelExpr": "datum.value == 0 ? ['19JUL','2026'] : datum.value == 48 ? '21JUL' : datum.value == 96 ? '23JUL' : datum.value == 144 ? '25JUL' : datum.value == 192 ? '27JUL' : datum.value == 240 ? '29JUL' : datum.value == 312 ? '1AUG' : '3AUG'", "grid": true, "gridDash": [1, 3], "gridColor": "#999999", "domain": false, "tickSize": 5, "tickColor": "#333333", "labelFontSize": 15, "labelFont": "DejaVu Sans", "labelColor": "black", "labelPadding": 3, "labelLineHeight": 17, "labelFlush": false, "labelOverlap": false}},
"y": {"field": "v", "type": "quantitative", "scale": {"domain": [0, 80], "nice": false},
"axis": {"title": null, "values": [0, 10, 20, 30, 40, 50, 60, 70, 80], "grid": true, "gridDash": [1, 3], "gridColor": "#999999", "domain": false, "tickSize": 5, "tickColor": "#333333", "labelFontSize": 12, "labelFont": "DejaVu Sans", "labelColor": "black", "labelPadding": 11, "labelOffset": -1}},
"color": {"field": "s", "type": "nominal",
"scale": {"domain": ["P1","P2","P3","P4","P5","P6","P7","P8","P9","P10","P11","P12","P13","P14","P15","P16","P17","P18","P19","P20","P21","P22","P23","P24","P25","P26","P27","P28","P29","P30"],
"range": ["#ff33ff","#ee22ee","#9900ee","#b070e8","#9070b0","#1a2a8a","#3322aa","#0000ee","#2255dd","#5580dd","#6a90e0","#00ddee","#00ccee","#99ddaa","#66cc66","#55cc55","#44cc33","#99dd22","#ffdd00","#ffaa22","#ff9933","#ffaa11","#dd5533","#ff7711","#ff2222","#ee0011","#ee1111","#cc0011","#bb2222","#aa4444"]},
"legend": {"orient": "none", "legendX": -101, "legendY": 6, "padding": 0, "title": null, "symbolSize": 0, "symbolStrokeWidth": 0, "symbolOpacity": 0, "labelOffset": 0, "labelFontSize": 13, "labelFont": "DejaVu Sans", "rowPadding": 0, "labelColor": {"expr": "scale('color', datum.value)"}}}
}
},
{
"transform": [{"fold": ["CONTROL", "OPERATIONAL", "MEAN"], "as": ["s", "v"]}],
"mark": {"type": "line", "strokeWidth": 2.6},
"encoding": {
"x": {"field": "t", "type": "quantitative", "scale": {"domain": [0, 384], "nice": false}},
"y": {"field": "v", "type": "quantitative", "scale": {"domain": [0, 80], "nice": false}},
"stroke": {"field": "s", "type": "nominal",
"scale": {"domain": ["MEAN", "CONTROL", "OPERATIONAL"], "range": ["#9911ff", "#3355ff", "#11dd11"]},
"legend": {"orient": "none", "legendX": 357, "legendY": 12, "direction": "horizontal", "title": null, "symbolSize": 0, "symbolStrokeWidth": 0, "symbolOpacity": 0, "labelOffset": 0, "labelFontSize": 15, "labelFont": "DejaVu Sans", "columnPadding": 10, "labelColor": {"expr": "scale('stroke', datum.value)"}}}
}
}
]
}
